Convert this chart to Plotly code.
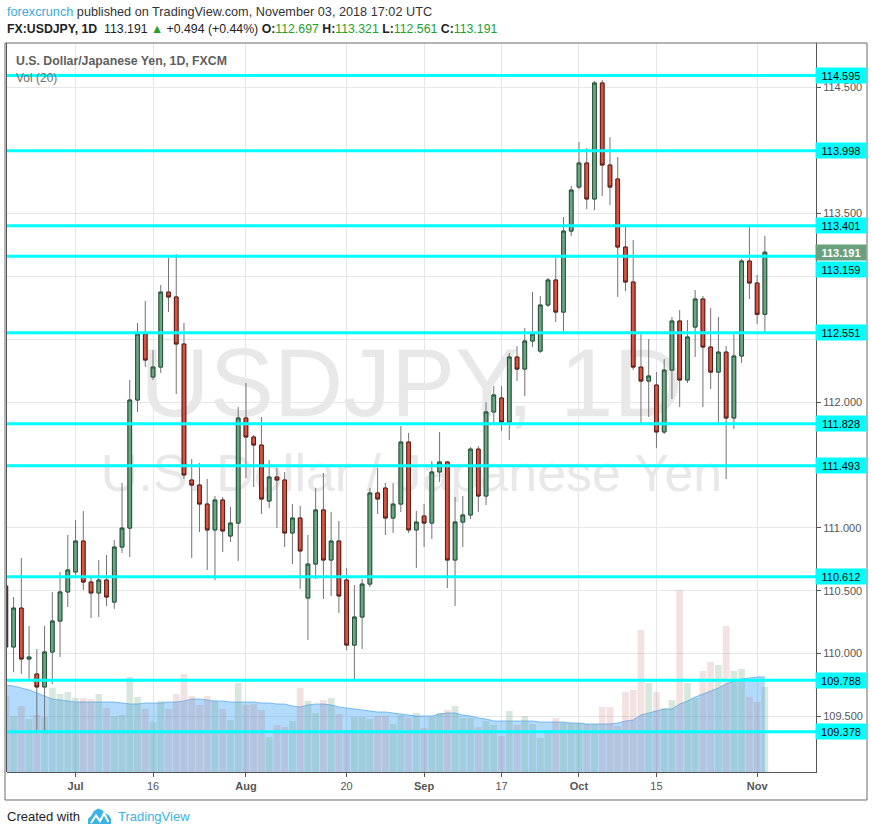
import plotly.graph_objects as go

# ---------------- data ----------------
dates = [
    "2018-06-19", "2018-06-20", "2018-06-21", "2018-06-22", "2018-06-25", "2018-06-26", "2018-06-27", "2018-06-28", "2018-06-29",
    "2018-07-02", "2018-07-03", "2018-07-04", "2018-07-05", "2018-07-06",
    "2018-07-09", "2018-07-10", "2018-07-11", "2018-07-12", "2018-07-13",
    "2018-07-16", "2018-07-17", "2018-07-18", "2018-07-19", "2018-07-20",
    "2018-07-23", "2018-07-24", "2018-07-25", "2018-07-26", "2018-07-27",
    "2018-07-30", "2018-07-31", "2018-08-01", "2018-08-02", "2018-08-03",
    "2018-08-06", "2018-08-07", "2018-08-08", "2018-08-09", "2018-08-10",
    "2018-08-13", "2018-08-14", "2018-08-15", "2018-08-16", "2018-08-17",
    "2018-08-20", "2018-08-21", "2018-08-22", "2018-08-23", "2018-08-24",
    "2018-08-27", "2018-08-28", "2018-08-29", "2018-08-30", "2018-08-31",
    "2018-09-03", "2018-09-04", "2018-09-05", "2018-09-06", "2018-09-07",
    "2018-09-10", "2018-09-11", "2018-09-12", "2018-09-13", "2018-09-14",
    "2018-09-17", "2018-09-18", "2018-09-19", "2018-09-20", "2018-09-21",
    "2018-09-24", "2018-09-25", "2018-09-26", "2018-09-27", "2018-09-28",
    "2018-10-01", "2018-10-02", "2018-10-03", "2018-10-04", "2018-10-05",
    "2018-10-08", "2018-10-09", "2018-10-10", "2018-10-11", "2018-10-12",
    "2018-10-15", "2018-10-16", "2018-10-17", "2018-10-18", "2018-10-19",
    "2018-10-22", "2018-10-23", "2018-10-24", "2018-10-25", "2018-10-26",
    "2018-10-29", "2018-10-30", "2018-10-31", "2018-11-01", "2018-11-02",
]

opens = [
    110.537, 110.053, 110.362, 109.957, 109.838, 109.735, 110.013, 110.259, 110.490,
    110.649, 110.895, 110.569, 110.482, 110.585,
    110.410, 110.847, 110.998, 112.016, 112.541,
    112.199, 112.278, 112.874, 112.835, 112.461,
    111.380, 111.340, 111.189, 110.983, 111.221,
    110.935, 111.038, 111.873, 111.722, 111.658,
    111.213, 111.404, 111.380, 110.959, 111.078,
    110.442, 110.712, 111.142, 110.744, 110.895,
    110.585, 110.068, 110.291, 110.553, 111.277,
    111.316, 111.078, 111.189, 111.682, 110.983,
    111.094, 111.038, 111.444, 111.523, 110.744,
    111.046, 111.102, 111.626, 111.253, 111.921,
    112.032, 111.841, 112.358, 112.262, 112.485,
    112.405, 112.771, 112.970, 112.715, 113.359,
    113.709, 113.900, 113.614, 114.536, 113.884,
    113.773, 113.232, 112.954, 112.278, 112.167,
    112.135, 111.762, 112.254, 112.644, 112.175,
    112.596, 112.819, 112.437, 112.238, 112.397,
    111.873, 112.366, 113.121, 112.946, 112.697,
]

highs = [
    110.585, 110.450, 110.760, 110.219, 110.037, 110.219, 110.490, 110.649, 110.943,
    111.062, 111.134, 110.609, 110.744, 110.784,
    110.903, 111.356, 112.175, 112.628, 112.803,
    112.413, 112.930, 113.145, 113.176, 112.628,
    111.547, 111.515, 111.388, 111.253, 111.245,
    111.165, 111.960, 112.151, 111.738, 111.881,
    111.539, 111.475, 111.444, 111.189, 111.173,
    110.943, 111.316, 111.436, 111.126, 111.054,
    110.680, 110.545, 110.593, 111.316, 111.475,
    111.356, 111.356, 111.809, 111.754, 111.134,
    111.189, 111.531, 111.762, 111.531, 111.245,
    111.253, 111.642, 111.650, 112.000, 112.127,
    112.127, 112.390, 112.445, 112.588, 112.874,
    112.843, 112.986, 113.145, 113.471, 113.717,
    114.067, 114.019, 114.552, 114.560, 114.106,
    113.948, 113.391, 113.288, 112.548, 112.501,
    112.238, 112.342, 112.676, 112.731, 112.652,
    112.890, 112.843, 112.747, 112.676, 112.445,
    112.541, 113.137, 113.391, 113.010, 113.321,
]

lows = [
    109.989, 109.854, 109.838, 109.798, 109.385, 109.385, 109.758, 109.973, 110.370,
    110.625, 110.506, 110.283, 110.291, 110.378,
    110.355, 110.800, 110.768, 111.921, 112.278,
    112.175, 112.231, 112.715, 112.064, 111.388,
    110.760, 110.967, 110.665, 110.585, 110.808,
    110.887, 110.736, 111.396, 111.324, 111.110,
    111.157, 110.998, 110.847, 110.712, 110.514,
    110.108, 110.593, 110.434, 110.458, 110.323,
    110.029, 109.798, 110.037, 110.529, 111.110,
    110.943, 110.959, 111.126, 110.959, 110.680,
    110.847, 110.911, 111.364, 110.521, 110.378,
    110.847, 111.070, 111.126, 111.181, 111.833,
    111.769, 111.698, 112.167, 112.048, 112.437,
    112.390, 112.755, 112.636, 112.564, 113.320,
    113.693, 113.534, 113.526, 113.638, 113.566,
    112.835, 112.882, 112.254, 111.833, 111.881,
    111.634, 111.746, 112.024, 111.960, 112.151,
    112.358, 111.960, 112.103, 111.841, 111.388,
    111.785, 112.310, 112.819, 112.620, 112.561,
]

closes = [
    110.053, 110.362, 109.957, 109.973, 109.735, 110.013, 110.259, 110.490, 110.665,
    110.895, 110.569, 110.482, 110.585, 110.450,
    110.847, 110.998, 112.016, 112.541, 112.334,
    112.278, 112.874, 112.835, 112.461, 111.420,
    111.340, 111.189, 110.983, 111.221, 110.975,
    111.038, 111.873, 111.722, 111.658, 111.229,
    111.404, 111.380, 110.959, 111.078, 110.816,
    110.712, 111.142, 110.744, 110.895, 110.458,
    110.068, 110.291, 110.553, 111.277, 111.229,
    111.078, 111.189, 111.682, 110.983, 111.046,
    111.038, 111.444, 111.523, 110.744, 111.046,
    111.102, 111.626, 111.253, 111.921, 112.056,
    111.841, 112.358, 112.262, 112.485, 112.541,
    112.771, 112.970, 112.715, 113.359, 113.685,
    113.900, 113.614, 114.536, 113.884, 113.709,
    113.232, 112.954, 112.278, 112.167, 112.207,
    111.762, 112.254, 112.644, 112.175, 112.517,
    112.819, 112.437, 112.238, 112.397, 111.873,
    112.366, 113.121, 112.946, 112.697, 113.191,
]

# volume (thousands) and its 20-period moving average
volumes = [
    76, 56, 66, 53, 57, 55, 84, 78, 80,
    74, 74, 73, 78, 64,
    56, 57, 95, 75, 63,
    50, 71, 63, 78, 98,
    76, 67, 76, 71, 63,
    52, 89, 67, 68, 62,
    35, 47, 45, 51, 84,
    71, 59, 72, 74, 58,
    42, 55, 55, 53, 56,
    56, 48, 57, 54, 59,
    44, 55, 59, 62, 66,
    54, 54, 45, 51, 47,
    36, 61, 47, 56, 48,
    34, 42, 54, 49, 49,
    49, 48, 48, 65, 65,
    46, 80, 82, 142, 89,
    80, 64, 72, 182, 89,
    74, 101, 110, 107, 146,
    101, 103, 75, 70, 85,
]

vol_ma20 = [
    87, 86, 84, 82, 79, 76, 73, 72, 71,
    70, 70, 70, 70, 70,
    70, 69, 68, 68, 69,
    69, 69, 70, 70, 71,
    73, 73, 72, 71, 71,
    70, 70, 70, 70, 69,
    69, 68, 68, 66, 65,
    67, 68, 68, 67, 65,
    64, 63, 62, 61, 60,
    60, 59, 58, 57, 56,
    56, 56, 58, 59, 59,
    57, 56, 54, 53, 51,
    51, 51, 51, 51, 51,
    50, 50, 50, 50, 49,
    49, 48, 48, 48, 48,
    49, 51, 52, 57, 59,
    61, 63, 63, 68, 71,
    75, 78, 81, 84, 88,
    91, 93, 94, 95, 95,
]

levels = [114.595, 113.998, 113.401, 113.159, 112.551, 111.828, 111.493, 110.612, 109.788, 109.378]

tick_dates = ["2018-07-02", "2018-07-16", "2018-08-01", "2018-08-20", "2018-09-03",
              "2018-09-17", "2018-10-01", "2018-10-15", "2018-11-01"]
tick_labels = ["<b>Jul</b>", "16", "<b>Aug</b>", "20", "<b>Sep</b>", "17", "<b>Oct</b>", "15", "<b>Nov</b>"]
price_ticks = [109.5, 110.0, 110.5, 111.0, 111.5, 112.0, 112.5, 113.0, 113.5, 114.0, 114.5]
# price labels that are hidden behind the level boxes in the reference
hidden_ticks = [111.5, 112.5, 113.0, 114.0]

# ---------------- layout geometry ----------------
W, H = 872, 834
ML, MR, MT, MB = 7, 56, 43, 62
PW = W - ML - MR
PH = H - MT - MB


def pxx(x):
    return (x - ML) / PW


def pxy(y):
    return (H - MB - y) / PH


FONT = "Liberation Sans, Arial, sans-serif"
UP_FILL, UP_LINE = "#6ba583", "#225437"
DN_FILL, DN_LINE = "#d75442", "#5b1a13"
WICK = "#737375"
GREEN_TXT = "#22a02a"

idx = list(range(len(dates)))
body_hi = [max(o, c) for o, c in zip(opens, closes)]
body_lo = [min(o, c) for o, c in zip(opens, closes)]
vol_colors = ["rgba(107,165,131,0.26)" if c >= o else "rgba(190,110,110,0.20)"
              for o, c in zip(opens, closes)]

x_range = [0.15, 104.6]
y_range = [109.059, 114.854]

fig = go.Figure()

# watermark (base layer)
fig.add_trace(go.Scatter(
    x=[52.38, 52.38], y=[112.08, 111.40], mode="text",
    text=["USDJPY, 1D", "U.S. Dollar / Japanese Yen"],
    textfont=dict(size=[96, 52], color="#e8e8e8", family=FONT),
    hoverinfo="skip", yaxis="y", xaxis="x"))

# volume moving average area
fig.add_trace(go.Scatter(
    x=idx, y=vol_ma20, mode="lines", fill="tozeroy",
    line=dict(color="rgba(70,160,235,0.65)", width=1),
    fillcolor="rgba(33,150,243,0.35)", hoverinfo="skip", yaxis="y2"))

# volume bars
fig.add_trace(go.Bar(
    x=idx, y=volumes, marker=dict(color=vol_colors, line=dict(width=0)),
    hoverinfo="skip", yaxis="y3"))

# wicks
fig.add_trace(go.Candlestick(
    x=idx, open=opens, high=highs, low=lows, close=closes,
    increasing=dict(line=dict(color=WICK, width=1), fillcolor=WICK),
    decreasing=dict(line=dict(color=WICK, width=1), fillcolor=WICK),
    hoverinfo="skip", yaxis="y4"))

# bodies
fig.add_trace(go.Candlestick(
    x=idx, open=opens, high=body_hi, low=body_lo, close=closes,
    increasing=dict(line=dict(color=UP_LINE, width=1), fillcolor=UP_FILL),
    decreasing=dict(line=dict(color=DN_LINE, width=1), fillcolor=DN_FILL),
    hoverinfo="skip", yaxis="y4"))

shapes = []
for lv in levels:
    shapes.append(dict(type="line", xref="paper", yref="y", x0=0, x1=1, y0=lv, y1=lv,
                       line=dict(color="#00ffff", width=3), layer="above"))
# outer frame
shapes.append(dict(type="rect", xref="paper", yref="paper",
                   x0=pxx(5), x1=pxx(867), y0=pxy(800), y1=pxy(43),
                   line=dict(color="#6a6a6a", width=1), fillcolor="rgba(0,0,0,0)", layer="above"))
shapes.append(dict(type="line", xref="paper", yref="paper",
                   x0=pxx(6.5), x1=pxx(6.5), y0=0, y1=1,
                   line=dict(color="#555555", width=1), layer="above"))
# TradingView logo (approximation)
cloud = [(88, 824), (88, 819), (91, 816), (94, 811), (98, 808.5), (102, 810), (105, 813), (109, 815.5), (111, 819), (111, 824)]
path = "M " + " L ".join(f"{pxx(a):.5f},{pxy(b):.5f}" for a, b in cloud) + " Z"
shapes.append(dict(type="path", xref="paper", yref="paper", path=path,
                   fillcolor="#3bb3e4", line=dict(width=0), layer="above"))
zig = [(91, 823), (96, 815.5), (100, 821), (104, 813.5), (108.5, 822)]
zpath = "M " + " L ".join(f"{pxx(a):.5f},{pxy(b):.5f}" for a, b in zig)
shapes.append(dict(type="path", xref="paper", yref="paper", path=zpath,
                   line=dict(color="white", width=2), layer="above"))

annotations = []
# header
annotations.append(dict(
    xref="paper", yref="paper", x=pxx(5), y=pxy(12), xanchor="left", yanchor="middle",
    showarrow=False, font=dict(family=FONT, size=12.7, color="#333333"),
    text="<span style='color:#3ba9dd'>forexcrunch</span> published on TradingView.com, November 03, 2018 17:02 UTC"))
last_c = closes[-1]
chg = closes[-1] - closes[-2]
pct = chg / closes[-2] * 100


def g(v):
    return f"<span style='color:{GREEN_TXT}'>{v:.3f}</span>"


annotations.append(dict(
    xref="paper", yref="paper", x=pxx(5), y=pxy(29), xanchor="left", yanchor="middle",
    showarrow=False, font=dict(family=FONT, size=12.3, color="#222222"),
    text=(f"<b>FX:USDJPY, 1D</b>  {last_c:.3f} <span style='color:{GREEN_TXT}'>▲</span> "
          f"+{chg:.3f} (+{pct:.2f}%) <b>O:</b>{g(opens[-1])} <b>H:</b>{g(highs[-1])} "
          f"<b>L:</b>{g(lows[-1])} <b>C:</b>{g(closes[-1])}")))
annotations.append(dict(
    xref="paper", yref="paper", x=pxx(14), y=pxy(61), xanchor="left", yanchor="middle",
    showarrow=False, font=dict(family=FONT, size=12.3, color="#606060"),
    text="<b>U.S. Dollar/Japanese Yen, 1D, FXCM</b>"))
annotations.append(dict(
    xref="paper", yref="paper", x=pxx(14), y=pxy(78), xanchor="left", yanchor="middle",
    showarrow=False, font=dict(family=FONT, size=12, color="#707070"),
    text="Vol (20)"))

# level labels on the price scale (the 113.159 box is pushed below the last-price box)
for lv in levels:
    annotations.append(dict(
        xref="paper", yref="y", x=pxx(815), y=lv, xanchor="left", yanchor="middle",
        yshift=-13 if lv == 113.159 else 0,
        showarrow=False, bgcolor="#00ffff", width=46, height=11, borderpad=2, align="center",
        font=dict(family=FONT, size=11, color="#000000"), text=f"{lv:.3f}"))
annotations.append(dict(
    xref="paper", yref="y", x=pxx(815), y=last_c, xanchor="left", yanchor="middle",
    showarrow=False, bgcolor="#6aa07e", width=46, height=11, borderpad=2, align="center",
    font=dict(family=FONT, size=11, color="#ffffff"), text=f"<b>{last_c:.3f}</b>"))

# footer
annotations.append(dict(
    xref="paper", yref="paper", x=pxx(5), y=pxy(816), xanchor="left", yanchor="middle",
    showarrow=False, font=dict(family=FONT, size=13, color="#222222"), text="Created with"))
annotations.append(dict(
    xref="paper", yref="paper", x=pxx(116), y=pxy(816), xanchor="left", yanchor="middle",
    showarrow=False, font=dict(family=FONT, size=13, color="#3bb3e4"), text="TradingView"))

fig.update_layout(
    width=W, height=H,
    margin=dict(l=ML, r=MR, t=MT, b=MB, pad=0),
    paper_bgcolor="white", plot_bgcolor="white",
    showlegend=False, bargap=0.13, boxgap=0.32,
    hovermode=False,
    xaxis=dict(
        range=x_range, rangeslider=dict(visible=False),
        tickmode="array", tickvals=[dates.index(d) for d in tick_dates], ticktext=tick_labels,
        showgrid=True, gridcolor="#e6e6e6", gridwidth=1, zeroline=False,
        ticks="outside", ticklen=4, tickcolor="#555555",
        showline=True, linecolor="#555555", linewidth=1,
        tickfont=dict(family=FONT, size=11, color="#555555")),
    yaxis=dict(
        side="right", range=y_range, tickmode="array", tickvals=price_ticks,
        ticktext=["" if v in hidden_ticks else f"{v:.3f}" for v in price_ticks],
        showgrid=True, gridcolor="#e6e6e6", gridwidth=1, zeroline=False,
        ticks="outside", ticklen=4, tickcolor="#555555",
        showline=True, linecolor="#555555", linewidth=1,
        tickfont=dict(family=FONT, size=11, color="#555555")),
    yaxis2=dict(overlaying="y", range=[0, PH], visible=False),
    yaxis3=dict(overlaying="y", range=[0, PH], visible=False),
    yaxis4=dict(overlaying="y", range=y_range, visible=False),
    shapes=shapes, annotations=annotations,
)

fig.write_html("out.html", config={"displayModeBar": False},
               post_script="document.body.style.margin='0px';document.body.style.padding='0px';")
